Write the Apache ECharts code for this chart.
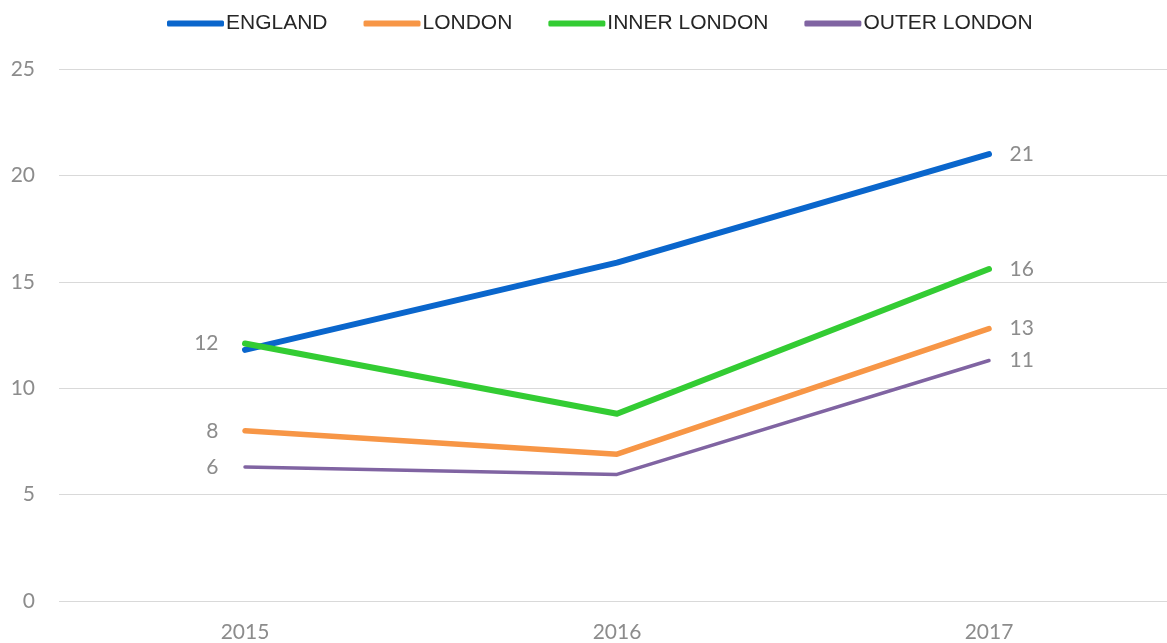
<!DOCTYPE html>
<html>
<head>
<meta charset="utf-8">
<style>
  html, body { margin: 0; padding: 0; background: #fff; overflow: hidden; }
  /* a bit wider than the window: the plot runs past the right edge */
  #chart { width: 1180px; height: 643px; }
</style>
<script src="https://cdn.jsdelivr.net/npm/echarts@6/dist/echarts.min.js"></script>
</head>
<body>
<div id="chart"></div>
<script>
// data
const years = ['2015', '2016', '2017']
const england = [11.8, 15.9, 21.0]
const london = [8.0, 6.9, 12.8]
const innerLondon = [12.1, 8.8, 15.6]
const outerLondon = [6.3, 5.95, 11.3]

const chart = echarts.init(document.getElementById('chart'))
const labelFont = 'Lato, "Open Sans", sans-serif'

// labels only on the end points (England has no label on the first one)
function withLabels(values, showFirst) {
  return values.map((v, i) => {
    const item = { value: v, label: { show: false } }
    if (i === 0 && showFirst) {
      item.label = { show: true, position: 'left', distance: 26 }
    } else if (i === values.length - 1) {
      item.label = { show: true, position: 'right', distance: 20 }
    }
    return item
  })
}

function line(name, values, color, width, showFirst) {
  return {
    name: name,
    type: 'line',
    data: withLabels(values, showFirst),
    symbol: 'circle',
    symbolSize: 1,
    showSymbol: true,
    lineStyle: { color: color, width: width, cap: 'round', join: 'round' },
    itemStyle: { color: color },
    label: {
      color: '#8c8c8c',
      fontSize: 21,
      fontFamily: labelFont,
      formatter: p => Math.round(p.value)
    },
    emphasis: { disabled: true },
    animation: false
  }
}

chart.setOption({
  legend: {
    top: 8,
    left: 162,
    itemWidth: 57,
    itemHeight: 6,
    itemGap: 36,
    icon: 'roundRect',
    textStyle: {
      color: '#262626',
      fontSize: 21,
      fontFamily: '"Liberation Sans", Arial, sans-serif',
      padding: [0, 0, 0, -3]
    },
    data: ['ENGLAND', 'LONDON', 'INNER LONDON', 'OUTER LONDON']
  },
  grid: {
    left: 59,
    width: 1116,
    top: 69,
    bottom: 42,
    containLabel: false
  },
  xAxis: {
    type: 'category',
    data: years,
    boundaryGap: true,
    axisLine: { show: false },
    axisTick: { show: false },
    axisLabel: {
      color: '#8c8c8c',
      fontSize: 21,
      fontFamily: labelFont,
      margin: 21
    }
  },
  yAxis: {
    type: 'value',
    min: 0,
    max: 25,
    interval: 5,
    axisLine: { show: false },
    axisTick: { show: false },
    axisLabel: {
      color: '#8c8c8c',
      fontSize: 21,
      fontFamily: labelFont,
      margin: 24
    },
    splitLine: { lineStyle: { color: '#d9d9d9', width: 1 } }
  },
  series: [
    line('ENGLAND', england, '#0a66cc', 6, false),
    line('LONDON', london, '#f79646', 5.5, true),
    line('INNER LONDON', innerLondon, '#33cc33', 6, true),
    line('OUTER LONDON', outerLondon, '#8064a2', 3.5, true)
  ]
})
</script>
</body>
</html>
